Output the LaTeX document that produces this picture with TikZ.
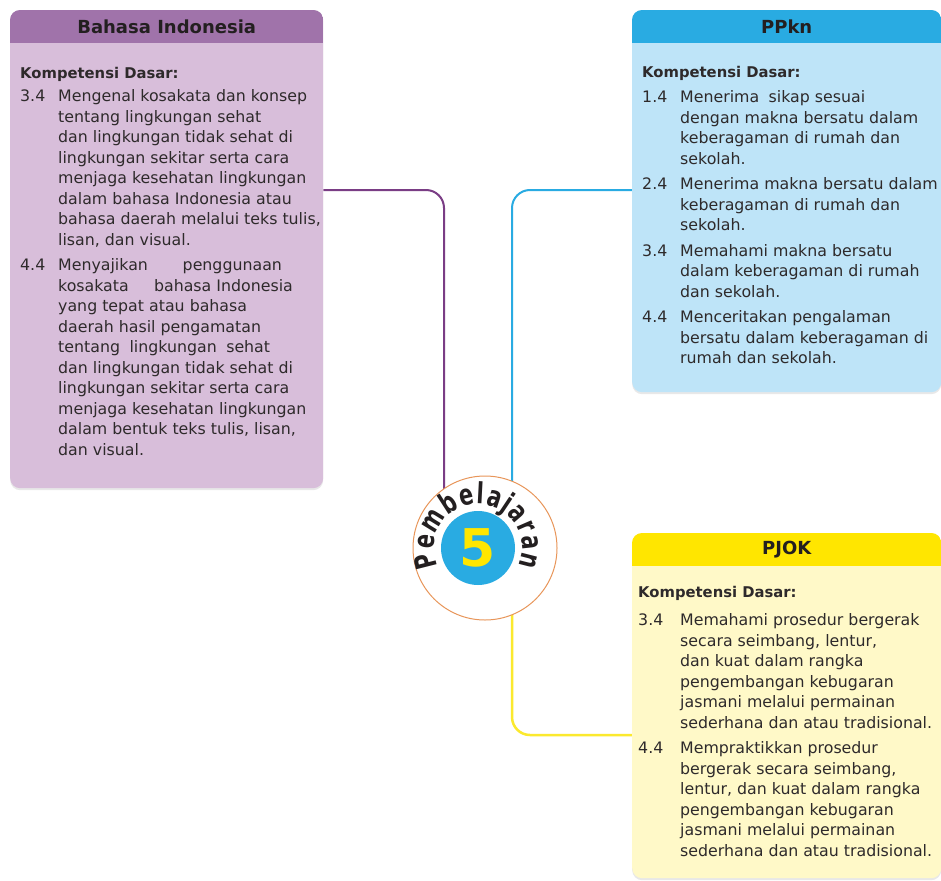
\documentclass[tikz,border=0pt]{standalone}
\usepackage{fontspec}
\setmainfont{DejaVu Sans}
\newfontfamily\busurfamily[FakeStretch=0.72]{DejaVu Sans}
\usetikzlibrary{positioning,calc,backgrounds,shadows,decorations.text}

\definecolor{ungutua}{HTML}{A073AA}
\definecolor{ungumuda}{HTML}{D8BEDA}
\definecolor{ungugaris}{HTML}{7A3D85}
\definecolor{birutua}{HTML}{29ABE2}
\definecolor{birumuda}{HTML}{BEE4F8}
\definecolor{kuningtua}{HTML}{FFE600}
\definecolor{kuningmuda}{HTML}{FFF9C8}
\definecolor{kuninggaris}{HTML}{FBE92E}
\definecolor{oranye}{HTML}{E8965A}
\definecolor{teksgelap}{HTML}{231F20}
\definecolor{teksabu}{HTML}{2E2A2B}

\newcommand{\isi}{\fontsize{15.8}{20.5}\selectfont}
\newcommand{\kd}{{\fontsize{14.8}{20.5}\selectfont\bfseries Kompetensi Dasar:}}
\newcommand{\judulfont}{\fontsize{18}{20}\selectfont\bfseries}
\newcommand{\busurfont}{\busurfamily\fontsize{29}{29}\selectfont\bfseries}

\tikzset{
  kotak/.style={rectangle, rounded corners=10pt, inner sep=0pt, anchor=north west,
    drop shadow={opacity=0.18, shadow xshift=0pt, shadow yshift=-2pt}},
  judul/.style={font=\judulfont, text=teksgelap, inner sep=0pt},
  teks/.style={font=\isi, text=teksabu, inner sep=0pt, anchor=north west},
  garis/.style={line width=2pt, rounded corners=18pt},
}

\begin{document}
\begin{tikzpicture}[x=1pt, y=-1pt]
\useasboundingbox (0,0) rectangle (941,880);

% kotak Bahasa Indonesia
\node[kotak, fill=ungumuda, minimum width=313pt, minimum height=478pt] (bi) at (10,10) {};
\begin{scope}
\clip[rounded corners=10pt] (bi.north west) rectangle (bi.south east);
\fill[ungutua] (bi.north west) rectangle ($(bi.north east)+(0,33)$);
\end{scope}
\node[judul] (jbi) at ($(bi.north)+(0,16.5)$) {Bahasa Indonesia};
\node[teks] (kdbi) at (20,64) {%
\begin{tabular}{@{}p{38pt}@{}l@{}}
\multicolumn{2}{@{}l@{}}{\kd}\\[2.5pt]
3.4 & Mengenal kosakata dan konsep\\
    & tentang lingkungan sehat\\
    & dan lingkungan tidak sehat di\\
    & lingkungan sekitar serta cara\\
    & menjaga kesehatan lingkungan\\
    & dalam bahasa Indonesia atau\\
    & bahasa daerah melalui teks tulis,\\
    & lisan, dan visual.\\[5pt]
4.4 & Menyajikan\hspace{2.2em}penggunaan\\
    & kosakata\hspace{1.6em}bahasa Indonesia\\
    & yang tepat atau bahasa\\
    & daerah hasil pengamatan\\
    & tentang\hspace{0.6em}lingkungan\hspace{0.6em}sehat\\
    & dan lingkungan tidak sehat di\\
    & lingkungan sekitar serta cara\\
    & menjaga kesehatan lingkungan\\
    & dalam bentuk teks tulis, lisan,\\
    & dan visual.
\end{tabular}};

% kotak PPkn
\node[kotak, fill=birumuda, minimum width=309pt, minimum height=382pt] (ppkn) at (632,10) {};
\begin{scope}
\clip[rounded corners=10pt] (ppkn.north west) rectangle (ppkn.south east);
\fill[birutua] (ppkn.north west) rectangle ($(ppkn.north east)+(0,33)$);
\end{scope}
\node[judul] (jppkn) at ($(ppkn.north)+(0,16.5)$) {PPkn};
\node[teks] (kdppkn) at (642,63) {%
\begin{tabular}{@{}p{38pt}@{}l@{}}
\multicolumn{2}{@{}l@{}}{\kd}\\[4.5pt]
1.4 & Menerima\hspace{0.6em}sikap sesuai\\
    & dengan makna bersatu dalam\\
    & keberagaman di rumah dan\\
    & sekolah.\\[5pt]
2.4 & Menerima makna bersatu dalam\\
    & keberagaman di rumah dan\\
    & sekolah.\\[5pt]
3.4 & Memahami makna bersatu\\
    & dalam keberagaman di rumah\\
    & dan sekolah.\\[5pt]
4.4 & Menceritakan pengalaman\\
    & bersatu dalam keberagaman di\\
    & rumah dan sekolah.
\end{tabular}};

% kotak PJOK
\node[kotak, fill=kuningmuda, minimum width=309pt, minimum height=345pt] (pjok) at (632,533) {};
\begin{scope}
\clip[rounded corners=10pt] (pjok.north west) rectangle (pjok.south east);
\fill[kuningtua] (pjok.north west) rectangle ($(pjok.north east)+(0,33)$);
\end{scope}
\node[judul] (jpjok) at ($(pjok.north)+(0,16.5)$) {PJOK};
\node[teks] (kdpjok) at (638,583) {%
\begin{tabular}{@{}p{42pt}@{}l@{}}
\multicolumn{2}{@{}l@{}}{\kd}\\[7.5pt]
3.4 & Memahami prosedur bergerak\\
    & secara seimbang, lentur,\\
    & dan kuat dalam rangka\\
    & pengembangan kebugaran\\
    & jasmani melalui permainan\\
    & sederhana dan atau tradisional.\\[5pt]
4.4 & Mempraktikkan prosedur\\
    & bergerak secara seimbang,\\
    & lentur, dan kuat dalam rangka\\
    & pengembangan kebugaran\\
    & jasmani melalui permainan\\
    & sederhana dan atau tradisional.
\end{tabular}};

% lingkaran tengah
\node[circle, draw=oranye, line width=1pt, fill=white, minimum size=144pt, inner sep=0pt] (pb) at (485,548) {};
\node[circle, fill=birutua, minimum size=74pt, inner sep=0pt, text=kuningtua,
  font=\fontsize{52}{52}\selectfont\bfseries] (lima) at (478,548) {5};
\path[decorate, decoration={text along path, text={|\busurfont|Pembelajaran},
  text align={fit to path}, text color=teksgelap}]
  (lima.center) ++(156:44) arc[start angle=156, end angle=384, radius=44];

% garis penghubung
\coordinate (kiri) at (444,190);
\coordinate (kanan) at (512,190);
\coordinate (bawah) at (512,735);
\begin{scope}[on background layer]
\fill[white] (0,0) rectangle (941,880);
\draw[garis, ungugaris] (bi.east |- kiri) -- (kiri) -- (kiri |- pb.center);
\draw[garis, birutua] (kanan |- pb.center) -- (kanan) -- (ppkn.west |- kanan);
\draw[garis, kuninggaris, line width=2.5pt] (bawah |- pb.center) -- (bawah) -- (pjok.west |- bawah);
\end{scope}
\end{tikzpicture}
\end{document}
